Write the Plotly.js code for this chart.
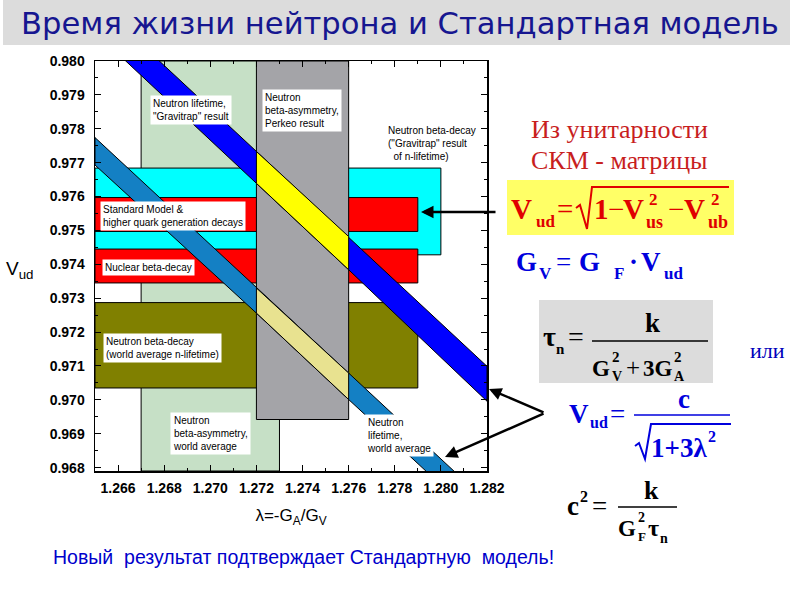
<!DOCTYPE html>
<html>
<head>
<meta charset="utf-8">
<script src="https://cdn.plot.ly/plotly-3.0.1.min.js"></script>
<style>html,body{margin:0;padding:0;background:#fff;}#chart{width:800px;height:600px;}</style>
</head>
<body>
<div id="chart"></div>
<script>
// ---------------- DATA ----------------
// Axis ranges
const lambdaRange = [1.265, 1.282];
const vudRange = [0.9679, 0.980];

// Horizontal constraint boxes: lambda extent and Vud extent
const hBandNames  = ['Neutron beta-decay (Gravitrap n-lifetime)', 'Standard Model & higher quark generation decays', 'Nuclear beta-decay', 'Neutron beta-decay (world average n-lifetime)'];
const hBandLamLo  = [1.265, 1.265, 1.265, 1.265];
const hBandLamHi  = [1.280, 1.279, 1.279, 1.279];
const hBandVudLo  = [0.97428, 0.97497, 0.97345, 0.97035];
const hBandVudHi  = [0.97684, 0.97597, 0.97445, 0.97287];

// Vertical constraint boxes (beta-asymmetry): lambda extent and Vud extent
const vBandNames  = ['Neutron beta-asymmetry, world average', 'Neutron beta-asymmetry, Perkeo'];
const vBandLamLo  = [1.267, 1.272];
const vBandLamHi  = [1.273, 1.276];
const vBandVudLo  = [0.9679, 0.96942];
const vBandVudHi  = [0.980, 0.980];

// Diagonal lifetime bands: Vud edges read at these lambda values
const bandLambda  = [1.265, 1.272, 1.276, 1.282];
const gravUpper   = [0.98177, 0.97733, 0.97482, 0.97099];
const gravLower   = [0.98085, 0.97639, 0.97384, 0.96996];
const worldUpper  = [0.97774, 0.97330, 0.97079, 0.96699];
const worldLower  = [0.97693, 0.97256, 0.97001, 0.96623];

// ---------------- STYLES ----------------
const hBandColors = ['#00ffff', '#ff0000', '#ff0000', '#808000'];
const vBandColors = ['#c6e0c6', '#a4a4a8'];
const SANS = 'Liberation Sans, Arial, sans-serif';
const SERIF = 'Liberation Serif, Times New Roman, serif';

function rectTrace(x0, x1, y0, y1, color, name) {
  return {type:'scatter', mode:'lines', name:name, x:[x0,x1,x1,x0,x0], y:[y0,y0,y1,y1,y0],
    fill:'toself', fillcolor:color, line:{color:'#000', width:1}, hoverinfo:'skip'};
}
function bandTrace(lam, up, lo, color, name) {
  const x = lam.concat(lam.slice().reverse(), [lam[0]]);
  const y = up.concat(lo.slice().reverse(), [up[0]]);
  return {type:'scatter', mode:'lines', name:name, x:x, y:y, fill:'toself', fillcolor:color,
    line:{color:'#000', width:1}, hoverinfo:'skip'};
}

const traces = [];
traces.push(rectTrace(vBandLamLo[0], vBandLamHi[0], vBandVudLo[0], vBandVudHi[0], vBandColors[0], vBandNames[0]));
for (let i = 0; i < hBandNames.length; i++) {
  traces.push(rectTrace(hBandLamLo[i], hBandLamHi[i], hBandVudLo[i], hBandVudHi[i], hBandColors[i], hBandNames[i]));
}
traces.push(rectTrace(vBandLamLo[1], vBandLamHi[1], vBandVudLo[1], vBandVudHi[1], vBandColors[1], vBandNames[1]));
traces.push(bandTrace(bandLambda, gravUpper, gravLower, '#0000ff', 'Neutron lifetime, Gravitrap'));
traces.push(bandTrace(bandLambda, worldUpper, worldLower, '#1480c4', 'Neutron lifetime, world average'));
traces.push(bandTrace(bandLambda.slice(1,3), gravUpper.slice(1,3), gravLower.slice(1,3), '#ffff00', 'Gravitrap x Perkeo'));
traces.push(bandTrace(bandLambda.slice(1,3), worldUpper.slice(1,3), worldLower.slice(1,3), '#e8e290', 'World average x Perkeo'));

// ---------------- LAYOUT HELPERS (pixel -> paper) ----------------
const px = v => (v - 95) / 392;
const py = v => (471 - v) / 410;

const annotations = [];
const shapes = [];

// title bar
shapes.push({type:'rect', xref:'paper', yref:'paper', x0:px(3), x1:px(790), y0:py(45), y1:py(0),
  fillcolor:'#dcdcdc', line:{width:0}, layer:'below'});
// formula boxes
shapes.push({type:'rect', xref:'paper', yref:'paper', x0:px(507), x1:px(734), y0:py(235), y1:py(180),
  fillcolor:'#ffff66', line:{width:0}, layer:'below'});
shapes.push({type:'rect', xref:'paper', yref:'paper', x0:px(539), x1:px(713), y0:py(383), y1:py(300),
  fillcolor:'#dcdcdc', line:{width:0}, layer:'below'});

function label(text, x, y, bg) {
  annotations.push({xref:'paper', yref:'paper', x:px(x), y:py(y), xanchor:'left', yanchor:'top',
    text:text, align:'left', showarrow:false, bgcolor: bg ? '#ffffff' : 'rgba(0,0,0,0)', borderpad:2,
    font:{family:SANS, size:10, color:'#000'}});
}
label('Neutron lifetime,<br>"Gravitrap" result', 150, 95, true);
label('Neutron<br>beta-asymmetry,<br>Perkeo result', 262, 89, true);
label('Neutron beta-decay<br>("Gravitrap" result<br>\u00a0\u00a0of n-lifetime)', 385, 122, false);
label('Standard Model &amp;<br>higher quark generation decays', 100, 201, true);
label('Nuclear beta-decay', 102, 259, true);
label('Neutron beta-decay<br>(world average n-lifetime)', 103, 333, true);
label('Neutron<br>beta-asymmetry,<br>world average', 170, 412, true);
label('Neutron<br>lifetime,<br>world average', 364, 414, true);

// arrows
function arrow(hx, hy, tx, ty) {
  annotations.push({xref:'paper', yref:'paper', x:px(hx), y:py(hy), ax:tx-hx, ay:ty-hy, axref:'pixel', ayref:'pixel',
    text:'', showarrow:true, arrowhead:2, arrowsize:1, arrowwidth:2.5, arrowcolor:'#000'});
}
arrow(421, 212, 497, 212);
arrow(489, 389, 545, 413);
arrow(445, 457, 545, 413);

// text pieces: x = left pixel, base = baseline pixel
function t(text, x, base, size, color, weight, anchor, family) {
  annotations.push({xref:'paper', yref:'paper', x:px(x), y:py(base - 0.34*size), xanchor:anchor||'left', yanchor:'middle',
    text:text, showarrow:false, borderpad:0,
    font:{family:family||SERIF, size:size, color:color, weight:weight}});
}
function line(x0, y0, x1, y1, color, w) {
  shapes.push({type:'line', xref:'paper', yref:'paper', x0:px(x0), y0:py(y0), x1:px(x1), y1:py(y1), line:{color:color, width:w}});
}
function radical(pts, color, w) {
  const d = pts.map((p, i) => (i ? 'L' : 'M') + px(p[0]).toFixed(5) + ',' + py(p[1]).toFixed(5)).join(' ');
  shapes.push({type:'path', xref:'paper', yref:'paper', path:d, line:{color:color, width:w}});
}

// red heading
const RED = '#c81e1e';
t('Из унитарности', 619, 138, 26, RED, 400, 'center');
t('СКМ - матрицы', 619, 169, 26, RED, 400, 'center');

// Formula 1: Vud = sqrt(1 - Vus^2 - Vub^2)
const R = '#e00000';
t('V', 510, 219, 29, R, 700);
t('ud', 535, 227, 17, R, 700);
t('=', 556, 219, 29, R, 400);
radical([[576,208],[580,205],[587,229],[592,187],[729,187]], R, 2);
t('1', 593, 219, 29, R, 700);
t('\u2212', 607, 219, 29, R, 400);
t('V', 622, 219, 29, R, 700);
t('2', 648, 205, 17, R, 700);
t('us', 645, 228, 18, R, 700);
t('\u2212', 667, 219, 29, R, 400);
t('V', 683, 219, 29, R, 700);
t('2', 710, 205, 17, R, 700);
t('ub', 707, 228, 18, R, 700);

// Formula 2: GV = GF * Vud
const B = '#0000dd';
t('G', 515, 271, 27, B, 700);
t('V', 538, 279, 17, B, 700);
t('=', 555, 271, 27, B, 400);
t('G', 578, 271, 27, B, 700);
t('F', 613, 279, 17, B, 700);
t('\u00b7', 628, 271, 27, B, 700);
t('V', 640, 271, 27, B, 700);
t('ud', 663, 279, 17, B, 700);

// Formula 3: tau_n = k / (GV^2 + 3 GA^2)
const K = '#000000';
t('\u03c4', 542, 346, 28, K, 700);
t('n', 555, 354, 15, K, 700);
t('=', 567, 346, 28, K, 400);
line(592, 341, 708, 341, K, 1.5);
t('k', 652, 332, 27, K, 700, 'center');
t('G', 591, 376, 23, K, 700);
t('2', 611, 362, 15, K, 700);
t('V', 611, 381, 14, K, 700);
t('+', 625, 376, 25, K, 400);
t('3G', 642, 376, 23, K, 700);
t('2', 673, 362, 15, K, 700);
t('A', 673, 381, 14, K, 700);
t('или', 767, 358, 22, '#0000bb', 400, 'center');

// Formula 4: Vud = c / sqrt(1 + 3 lambda^2)
t('V', 568, 423, 27, B, 700);
t('ud', 589, 428, 16, B, 700);
t('=', 609, 423, 27, B, 400);
line(634, 415, 730, 415, B, 1.5);
t('c', 684, 408, 27, B, 700, 'center');
radical([[635,446],[639,443],[645,459],[651,424],[731,424]], B, 2);
t('1+3\u03bb', 650, 457, 27, B, 700);
t('2', 707, 442, 16, B, 700);

// Formula 5: c^2 = k / (GF^2 tau_n)
t('c', 566, 515, 27, K, 700);
t('2', 579, 502, 16, K, 700);
t('=', 591, 515, 27, K, 400);
line(618, 507, 677, 507, K, 1.5);
t('k', 651, 499, 26, K, 700, 'center');
t('G', 617, 536, 23, K, 700);
t('2', 637, 522, 14, K, 700);
t('F', 637, 541, 13, K, 700);
t('\u03c4', 647, 536, 24, K, 700);
t('n', 659, 543, 14, K, 700);

// y axis title
annotations.push({xref:'paper', yref:'paper', x:px(19), y:py(270), xanchor:'center', yanchor:'middle',
  text:'V<sub>ud</sub>', showarrow:false, font:{family:SANS, size:19, color:'#000'}});
// bottom statement
annotations.push({xref:'paper', yref:'paper', x:px(303), y:py(557), xanchor:'center', yanchor:'middle',
  text:'Новый  результат подтверждает Стандартную  модель!', showarrow:false,
  font:{family:SANS, size:19.5, color:'#0000cc'}});

const layout = {
  width:800, height:600,
  margin:{l:95, r:313, t:61, b:129, pad:0},
  paper_bgcolor:'#ffffff', plot_bgcolor:'#ffffff',
  showlegend:false, hovermode:false,
  title:{text:'Время жизни нейтрона и Стандартная модель', x:0.5, xref:'container', xanchor:'center',
    y:1 - 23/600, yref:'container', yanchor:'middle',
    font:{family:'DejaVu Sans, sans-serif', size:30.6, color:'#161690'}},
  xaxis:{range:lambdaRange, tick0:1.266, dtick:0.002, tickformat:'.3f', ticks:'inside', ticklen:6, tickwidth:1,
    tickcolor:'#000', showline:true, linecolor:'#000', linewidth:1.5, mirror:'ticks', showgrid:false, zeroline:false,
    minor:{dtick:0.001, ticks:'inside', ticklen:3, tickcolor:'#000'},
    tickfont:{family:SANS, size:14, color:'#000', weight:700}, ticklabelstandoff:4,
    title:{text:'\u03bb=-G<sub>A</sub>/G<sub>V</sub>', standoff:14, font:{family:SANS, size:17, color:'#000'}}},
  yaxis:{range:vudRange, tick0:0.968, dtick:0.001, tickformat:'.3f', ticks:'inside', ticklen:6, tickwidth:1,
    tickcolor:'#000', showline:true, linecolor:'#000', linewidth:1.5, mirror:'ticks', showgrid:false, zeroline:false,
    minor:{dtick:0.0005, ticks:'inside', ticklen:3, tickcolor:'#000'},
    tickfont:{family:SANS, size:14, color:'#000', weight:700}, ticklabelstandoff:6},
  annotations:annotations,
  shapes:shapes
};

Plotly.newPlot('chart', traces, layout, {displayModeBar:false, staticPlot:true});
</script>
</body>
</html>
